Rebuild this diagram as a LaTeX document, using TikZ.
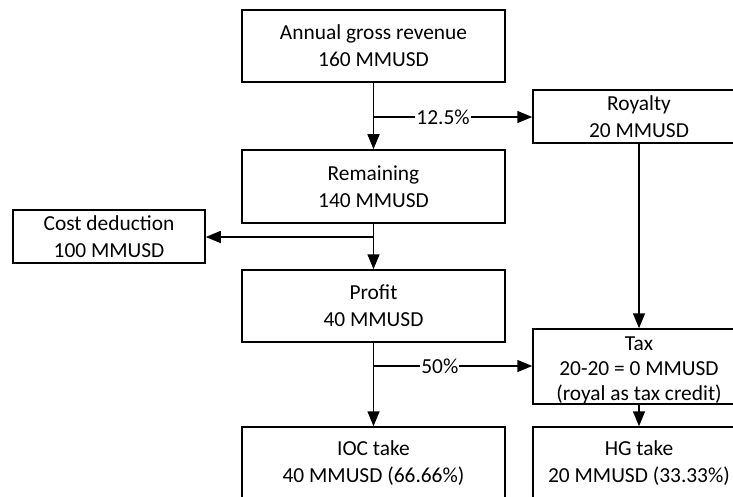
\documentclass[tikz,border=0pt]{standalone}
\usepackage{fontspec}
\setmainfont{Carlito}
\usetikzlibrary{arrows.meta}
\begin{document}
\begin{tikzpicture}[x=1pt,y=-1pt,
  box/.style={draw, line width=1.5pt, rectangle, align=center, inner sep=0pt,
    font=\fontsize{21.4}{27}\selectfont},
  arr/.style={line width=1.5pt, -{Triangle[length=15pt,width=12pt]}},
  lbl/.style={fill=white, inner sep=1pt, font=\fontsize{21.4}{27}\selectfont}]
\useasboundingbox (0,0) rectangle (733,497);
\node[box, minimum width=263pt, minimum height=72pt] (ann) at (373.5,46) {Annual gross revenue\\160 MMUSD};
\node[box, minimum width=263pt, minimum height=73pt] (rem) at (373.5,186.5) {Remaining\\140 MMUSD};
\node[box, minimum width=192pt, minimum height=53pt] (cost) at (109,236.5) {Cost deduction\\100 MMUSD};
\node[box, minimum width=263pt, minimum height=72pt] (prof) at (373.5,306) {Profit\\40 MMUSD};
\node[box, minimum width=263pt, minimum height=72pt] (ioc) at (373.5,463) {IOC take\\40 MMUSD (66.66\%)};
\node[box, minimum width=212pt, minimum height=53pt] (roy) at (639,116.5) {Royalty\\20 MMUSD};
\node[box, minimum width=212pt, minimum height=73pt, font=\fontsize{21.4}{25}\selectfont] (tax) at (639,366.5)
  {\raisebox{-4pt}[\height][\depth]{\begin{tabular}{@{}c@{}}Tax\\20-20 = 0 MMUSD\\(royal as tax credit)\end{tabular}}};
\node[box, minimum width=212pt, minimum height=72pt] (hg) at (639,463) {HG take\\20 MMUSD (33.33\%)};
\coordinate (b1) at (373,117);
\coordinate (b2) at (373,237);
\coordinate (b3) at (373,366);
\draw[arr] (ann.south) -- (rem.north);
\draw[arr] (b1) -- node[lbl, pos=0.44] {12.5\%} (b1 -| roy.west);
\draw[arr] (rem.south) -- (prof.north);
\draw[arr] (b2) -- (b2 -| cost.east);
\draw[arr] (prof.south) -- (ioc.north);
\draw[arr] (b3) -- node[lbl, pos=0.42] {50\%} (b3 -| tax.west);
\draw[arr] (roy.south) -- (tax.north);
\draw[arr] (tax.south) -- (hg.north);
\end{tikzpicture}
\end{document}
